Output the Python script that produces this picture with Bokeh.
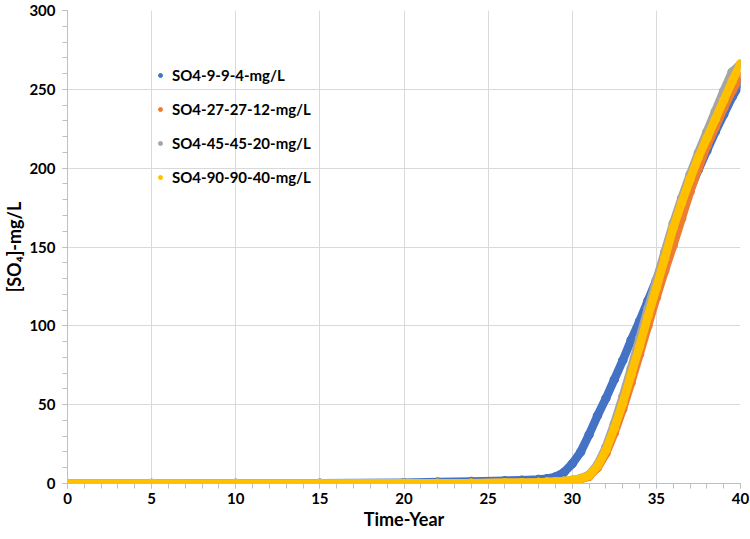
from bokeh.plotting import figure
from bokeh.models import Range1d, Legend, LegendItem, SingleIntervalTicker, ColumnDataSource
from bokeh.embed import file_html
from bokeh.resources import INLINE

# ---- data ----
time_year = [0, 5, 10, 15, 20, 22, 24, 26, 27, 28, 28.5, 29, 29.5, 30, 30.5, 31, 31.5,
             32, 32.5, 33, 33.5, 34, 34.5, 35, 35.5, 36, 36.5, 37, 37.5, 38, 38.5, 39, 39.5, 40]

so4_9_9_4 = [0, 0, 0.1, 0.2, 0.5, 0.9, 1.3, 1.8, 2.1, 2.6, 3.1, 4.2, 7, 12.5, 20, 31, 43,
             54, 66, 78, 91, 103, 116, 129, 143, 158, 172, 186, 199, 211, 223, 234, 245, 254]

so4_27_27_12 = [0, 0, 0, 0, 0.1, 0.1, 0.2, 0.4, 0.5, 0.7, 0.9, 1.1, 1.4, 1.8, 2.8, 4.5, 10,
                19, 32, 47, 64, 82, 100, 118, 135, 151, 168, 185, 200, 214, 226, 238, 249, 258]

so4_45_45_20 = [0, 0, 0, 0, 0.1, 0.1, 0.2, 0.4, 0.5, 0.7, 0.9, 1.1, 1.4, 2.1, 3.2, 5.5, 12,
                23, 38, 55, 73, 92, 111, 129, 147, 165, 181, 196, 210, 223, 236, 249, 261, 266]

so4_90_90_40 = [0, 0, 0, 0, 0.1, 0.1, 0.2, 0.4, 0.5, 0.7, 0.9, 1.1, 1.4, 2, 3, 5, 11,
                21, 35, 51, 69, 87, 106, 124, 143, 162, 178, 193, 207, 219, 231, 243, 255, 266]

series_names = ["SO4-9-9-4-mg/L", "SO4-27-27-12-mg/L", "SO4-45-45-20-mg/L", "SO4-90-90-40-mg/L"]
series_values = [so4_9_9_4, so4_27_27_12, so4_45_45_20, so4_90_90_40]
series_colors = ["#4472C4", "#ED7D31", "#A5A5A5", "#FFC000"]

FONT = "Lato"

p = figure(width=750, height=539, output_backend="svg", toolbar_location=None,
           x_range=Range1d(0, 40), y_range=Range1d(0, 300),
           min_border_left=67, min_border_right=10, min_border_top=10, min_border_bottom=56)
p.outline_line_color = None
p.background_fill_color = "white"
p.border_fill_color = "white"

items = []
for name, vals, col in zip(series_names, series_values, series_colors):
    src = ColumnDataSource(dict(t=time_year, v=vals))
    p.line("t", "v", source=src, line_color=col, line_width=8.5,
           line_cap="round", line_join="round")
    sc = p.scatter("t", "v", source=src, size=8.5, fill_color=col, line_color=col)
    items.append(LegendItem(label=name, renderers=[sc]))

legend = Legend(items=items, location=(88, 296), orientation="vertical",
                border_line_color=None, background_fill_alpha=0,
                label_text_font=FONT, label_text_font_style="bold",
                label_text_font_size="15px", label_text_color="black",
                glyph_width=10, glyph_height=20, label_height=20, label_standoff=7,
                spacing=14, padding=0, margin=0)
p.add_layout(legend, "center")

# axes
p.xaxis.ticker = SingleIntervalTicker(interval=5, num_minor_ticks=5)
p.yaxis.ticker = SingleIntervalTicker(interval=50, num_minor_ticks=5)
for ax in (p.xaxis, p.yaxis):
    ax.axis_line_color = "#bfbfbf"
    ax.major_tick_line_color = "#bfbfbf"
    ax.minor_tick_line_color = "#bfbfbf"
    ax.major_tick_out = 5
    ax.major_tick_in = 0
    ax.minor_tick_out = 5
    ax.minor_tick_in = 0
    ax.major_label_text_font = FONT
    ax.major_label_text_font_style = "bold"
    ax.major_label_text_font_size = "15px"
    ax.major_label_text_color = "black"
    ax.axis_label_text_font = FONT
    ax.axis_label_text_font_style = "bold"
    ax.axis_label_text_font_size = "18px"
    ax.axis_label_text_color = "black"

p.xaxis.axis_label = "Time-Year"
p.yaxis.axis_label = "[SO\u2084]-mg/L"
p.xaxis.major_label_standoff = 4
p.yaxis.major_label_standoff = 7
p.xaxis.axis_label_standoff = 1
p.yaxis.axis_label_standoff = 1

p.xgrid.grid_line_color = "#d9d9d9"
p.ygrid.grid_line_color = "#d9d9d9"

open("out.html", "w").write(file_html(p, INLINE))
